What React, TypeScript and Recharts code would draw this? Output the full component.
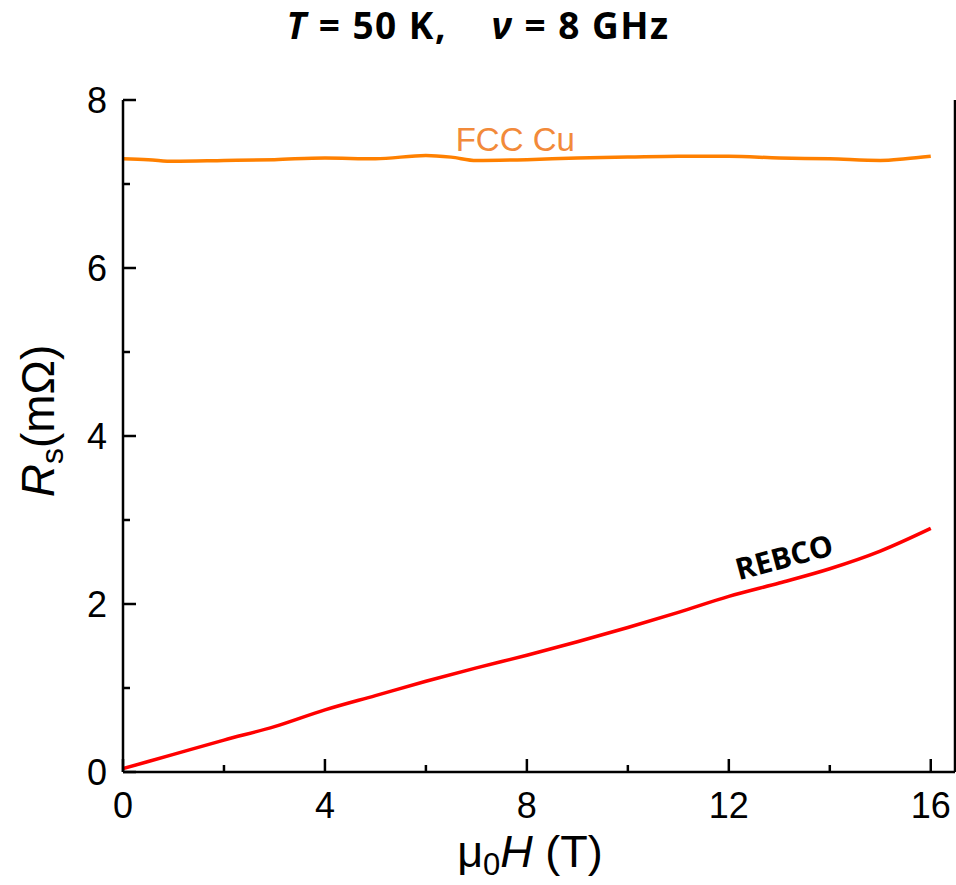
import React from 'react';
import { LineChart, Line, XAxis, YAxis, ReferenceDot } from 'recharts';

// Field values (T) and surface resistance (mΩ)
const cuField = [0, 0.5, 1, 2, 3, 4, 5, 6, 6.5, 7, 8, 9, 10, 11, 12, 13, 14, 15, 15.5, 16];
const cuRs = [7.30, 7.29, 7.27, 7.28, 7.29, 7.31, 7.30, 7.34, 7.32, 7.28, 7.29, 7.31, 7.32, 7.33, 7.33, 7.31, 7.30, 7.28, 7.30, 7.33];

const rebcoField = [0, 1, 2, 3, 4, 5, 6, 7, 8, 9, 10, 11, 12, 13, 14, 15, 16];
const rebcoRs = [0.04, 0.21, 0.38, 0.54, 0.74, 0.91, 1.08, 1.24, 1.39, 1.55, 1.72, 1.90, 2.09, 2.25, 2.42, 2.63, 2.90];

const xTicks = [0, 2, 4, 6, 8, 10, 12, 14, 16];
const xMajor = [0, 4, 8, 12, 16];
const yTicks = [0, 1, 2, 3, 4, 5, 6, 7, 8];
const yMajor = [0, 2, 4, 6, 8];

const cuData = cuField.map((h, i) => ({ h, rs: cuRs[i] }));
const rebcoData = rebcoField.map((h, i) => ({ h, rs: rebcoRs[i] }));

const FONT = "'Liberation Sans', Arial, sans-serif";
const AXIS_W = 2.5;

const BottomTick = (props: any) => {
  const { x, y, payload } = props;
  const major = xMajor.includes(payload.value);
  return (
    <g>
      <line x1={x} x2={x} y1={y} y2={y - (major ? 13 : 7)} stroke="#000" strokeWidth={2.5} />
      {major && (
        <text x={x} y={y + 46} textAnchor="middle" fontSize={36} fontFamily={FONT} fill="#000">
          {payload.value}
        </text>
      )}
    </g>
  );
};

const LeftTick = (props: any) => {
  const { x, y, payload } = props;
  const major = yMajor.includes(payload.value);
  return (
    <g>
      <line x1={x} x2={x + (major ? 13 : 7)} y1={y} y2={y} stroke="#000" strokeWidth={2.5} />
      {major && (
        <text x={x - 16} y={y + 13} textAnchor="end" fontSize={36} fontFamily={FONT} fill="#000">
          {payload.value}
        </text>
      )}
    </g>
  );
};

const RightTick = (props: any) => {
  const { x, y, payload } = props;
  const major = yMajor.includes(payload.value);
  return <line x1={x} x2={x - (major ? 13 : 7)} y1={y} y2={y} stroke="#000" strokeWidth={2.5} />;
};

const YLabel = (props: any) => {
  const vb = props.viewBox;
  const cx = 38;
  const cy = vb.y + vb.height / 2 - 15;
  return (
    <text transform={`translate(${cx},${cy}) rotate(-90)`} textAnchor="middle" fontSize={46} fontFamily={FONT} fill="#000" dy={16}>
      <tspan fontStyle="italic">R</tspan>
      <tspan fontSize={32} dy={9}>s</tspan>
      <tspan dy={-9}>(mΩ)</tspan>
    </text>
  );
};

const XLabel = (props: any) => {
  const vb = props.viewBox;
  const cx = vb.x + vb.width / 2 - 9;
  return (
    <text x={cx} y={vb.y + 95} textAnchor="middle" fontSize={45} fontFamily={FONT} fill="#000">
      <tspan>μ</tspan>
      <tspan fontSize={31} dy={8}>0</tspan>
      <tspan dy={-8} fontStyle="italic">H</tspan>
      <tspan> (T)</tspan>
    </text>
  );
};

const CuLabel = (props: any) => {
  const vb = props.viewBox;
  const cx = vb.x + vb.width / 2;
  const cy = vb.y + vb.height / 2;
  return (
    <text x={cx} y={cy + 11} textAnchor="middle" fontSize={33} fontFamily={FONT} fill="#F28A3A">
      FCC Cu
    </text>
  );
};

const RebcoLabel = (props: any) => {
  const vb = props.viewBox;
  const cx = vb.x + vb.width / 2;
  const cy = vb.y + vb.height / 2;
  return (
    <text
      transform={`translate(${cx},${cy}) rotate(-15)`}
      textAnchor="middle"
      dy={10}
      fontSize={30}
      fontWeight="bold"
      fontFamily="'Open Sans', 'Liberation Sans', sans-serif"
      fill="#000"
    >
      REBCO
    </text>
  );
};

export default function App() {
  return (
    <div style={{ position: 'absolute', left: 0, top: 0, width: 956, height: 885, background: '#fff' }}>
      <div
        style={{
          position: 'absolute',
          left: 0,
          top: 0,
          width: 956,
          height: 50,
          lineHeight: '50px',
          textAlign: 'center',
          fontFamily: "'Open Sans', sans-serif",
          fontWeight: 'bold',
          fontSize: 37,
          letterSpacing: 1.5,
          color: '#000',
          whiteSpace: 'pre',
        }}
      >
        <i>T</i> = 50 K,{'    '}<i>ν</i> = 8 GHz
      </div>
      <LineChart width={956} height={885} margin={{ top: 100, right: 0, bottom: 0, left: 0 }}>
        <XAxis
          xAxisId="bottom"
          dataKey="h"
          type="number"
          domain={[0, 16.48]}
          ticks={xTicks}
          allowDataOverflow
          height={113}
          tickSize={0}
          tickMargin={0}
          tickLine={false}
          axisLine={{ stroke: '#000', strokeWidth: AXIS_W }}
          tick={<BottomTick />}
          interval={0}
          label={<XLabel />}
        />
        <XAxis
          xAxisId="top"
          orientation="top"
          type="number"
          domain={[0, 16.48]}
          height={0}
          tick={false}
          tickLine={false}
          axisLine={{ stroke: '#000', strokeWidth: AXIS_W }}
        />
        <YAxis
          yAxisId="left"
          type="number"
          domain={[0, 8]}
          ticks={yTicks}
          width={123}
          tickSize={0}
          tickMargin={0}
          tickLine={false}
          interval={0}
          axisLine={{ stroke: '#000', strokeWidth: AXIS_W }}
          tick={<LeftTick />}
          label={<YLabel />}
        />
        <YAxis
          yAxisId="right"
          orientation="right"
          type="number"
          domain={[0, 8]}
          ticks={yTicks}
          width={1}
          tickSize={0}
          tickMargin={0}
          tickLine={false}
          interval={0}
          axisLine={{ stroke: '#000', strokeWidth: AXIS_W }}
          tick={<RightTick />}
        />
        <Line
          xAxisId="bottom"
          yAxisId="left"
          data={cuData}
          dataKey="rs"
          type="monotone"
          stroke="#FF8000"
          strokeWidth={3.5}
          dot={false}
          isAnimationActive={false}
        />
        <Line
          xAxisId="bottom"
          yAxisId="left"
          data={rebcoData}
          dataKey="rs"
          type="monotone"
          stroke="#FF0000"
          strokeWidth={3.5}
          dot={false}
          isAnimationActive={false}
        />
        <ReferenceDot xAxisId="bottom" yAxisId="left" x={7.77} y={7.52} r={0} fill="none" stroke="none" label={<CuLabel />} />
        <ReferenceDot xAxisId="bottom" yAxisId="left" x={13.1} y={2.55} r={0} fill="none" stroke="none" label={<RebcoLabel />} />
      </LineChart>
    </div>
  );
}
